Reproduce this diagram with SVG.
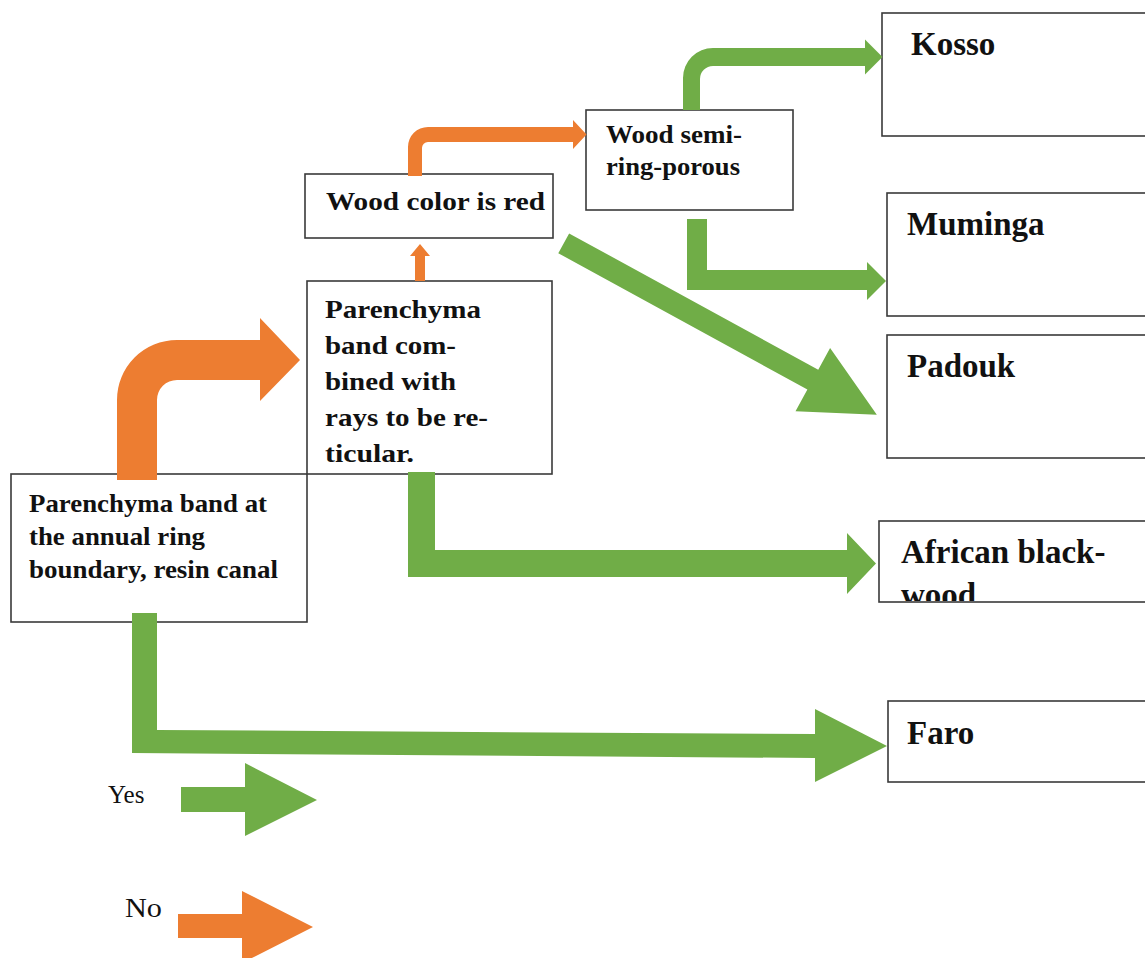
<svg xmlns="http://www.w3.org/2000/svg" width="1145" height="958" viewBox="0 0 1145 958">
  <style>
    .box { fill: #ffffff; stroke: #3a3a3a; stroke-width: 1.6; }
    .lbl { font-family: "Liberation Serif", "Times New Roman", serif; font-weight: bold; fill: #111111; }
    .sm { font-size: 25px; }
    .md { font-size: 26px; }
    .lg { font-size: 33px; }
    .key { font-family: "Liberation Serif", "Times New Roman", serif; fill: #111111; }
    .yes { fill: #70AD47; }
    .no { fill: #ED7D31; }
  </style>
  <defs>
    <clipPath id="clip-blackwood">
      <rect x="879" y="521" width="270" height="80"/>
    </clipPath>
  </defs>

  <!-- decision and result boxes -->
  <g id="node-ring-boundary">
    <rect class="box" x="11" y="474" width="296" height="148"/>
    <text class="lbl sm" x="29" y="512" textLength="238" lengthAdjust="spacingAndGlyphs">Parenchyma band at</text>
    <text class="lbl sm" x="29" y="545" textLength="176" lengthAdjust="spacingAndGlyphs">the annual ring</text>
    <text class="lbl sm" x="29" y="578" textLength="249" lengthAdjust="spacingAndGlyphs">boundary, resin canal</text>
  </g>

  <g id="node-reticular">
    <rect class="box" x="307" y="281" width="245" height="193"/>
    <text class="lbl sm" x="325" y="318" textLength="156" lengthAdjust="spacingAndGlyphs">Parenchyma</text>
    <text class="lbl sm" x="325" y="354" textLength="131" lengthAdjust="spacingAndGlyphs">band com-</text>
    <text class="lbl sm" x="325" y="390" textLength="131" lengthAdjust="spacingAndGlyphs">bined with</text>
    <text class="lbl sm" x="325" y="426" textLength="163" lengthAdjust="spacingAndGlyphs">rays to be re-</text>
    <text class="lbl sm" x="325" y="462" textLength="89" lengthAdjust="spacingAndGlyphs">ticular.</text>
  </g>

  <g id="node-red">
    <rect class="box" x="305" y="174" width="248" height="64"/>
    <text class="lbl md" x="326" y="210" textLength="219" lengthAdjust="spacingAndGlyphs">Wood color is red</text>
  </g>

  <g id="node-semi-ring">
    <rect class="box" x="586" y="110" width="207" height="100"/>
    <text class="lbl md" x="606" y="142.5" textLength="136" lengthAdjust="spacingAndGlyphs">Wood semi-</text>
    <text class="lbl md" x="606" y="175" textLength="134" lengthAdjust="spacingAndGlyphs">ring-porous</text>
  </g>

  <g id="node-kosso">
    <rect class="box" x="882" y="13" width="270" height="123"/>
    <text class="lbl lg" x="911" y="54.5">Kosso</text>
  </g>

  <g id="node-muminga">
    <rect class="box" x="887" y="193" width="265" height="123"/>
    <text class="lbl lg" x="907" y="234.5">Muminga</text>
  </g>

  <g id="node-padouk">
    <rect class="box" x="887" y="335" width="265" height="123"/>
    <text class="lbl lg" x="907" y="377">Padouk</text>
  </g>

  <g id="node-blackwood">
    <rect class="box" x="879" y="521" width="270" height="81"/>
    <g clip-path="url(#clip-blackwood)">
      <text class="lbl lg" x="901" y="562.5">African black-</text>
      <text class="lbl lg" x="901" y="606">wood</text>
    </g>
  </g>

  <g id="node-faro">
    <rect class="box" x="888" y="701" width="265" height="81"/>
    <text class="lbl lg" x="907" y="744">Faro</text>
  </g>

  <!-- block arrows: green = yes, orange = no -->
  <g id="connectors">
    <path class="no" d="M117,480 L117,400 A60,60 0 0 1 177,340 L260,340 L260,318 L300,360 L260,401 L260,380 L177,380 A20,20 0 0 0 157,400 L157,480 Z"/>
    <path class="no" d="M415,281 L415,256 L410,256 L420,244 L430,256 L425,256 L425,281 Z"/>
    <path class="no" d="M408,176 L408,147 A20,20 0 0 1 428,127 L573,127 L573,120 L586.5,134.5 L573,149 L573,142 L428,142 A6,6 0 0 0 422,148 L422,176 Z"/>
    <path class="yes" d="M683,110 L683,78 A30,30 0 0 1 713,48 L865,48 L865,39.5 L882.5,57 L865,74.5 L865,66 L713,66 A13,13 0 0 0 700,79 L700,110 Z"/>
    <path class="yes" d="M687,219 L707,219 L707,270 L867,270 L867,262 L886,281 L867,300 L867,290 L687,290 Z"/>
    <polygon class="yes" transform="translate(563.7,243.3) rotate(28.7)" points="0,-11.3 284,-11.3 284,-36 357,0 284,36 284,11.3 0,11.3"/>
    <path class="yes" d="M408,472 L435,472 L435,550 L847,550 L847,533 L876,563.5 L847,594 L847,577 L408,577 Z"/>
    <path class="yes" d="M132,613 L157,613 L157,730 L815,734 L815,709 L887,746 L815,782 L815,758 L132,753 Z"/>
  </g>

  <!-- key -->
  <g id="legend">
    <text class="key" x="108" y="803" font-size="25">Yes</text>
    <path class="yes" d="M181,787 L245,787 L245,763 L317,800 L245,836 L245,812 L181,812 Z"/>
    <text class="key" x="125" y="917" font-size="27" textLength="37" lengthAdjust="spacingAndGlyphs">No</text>
    <path class="no" d="M178,914 L242,914 L242,891 L313,927 L242,963 L242,938 L178,938 Z"/>
  </g>
</svg>
